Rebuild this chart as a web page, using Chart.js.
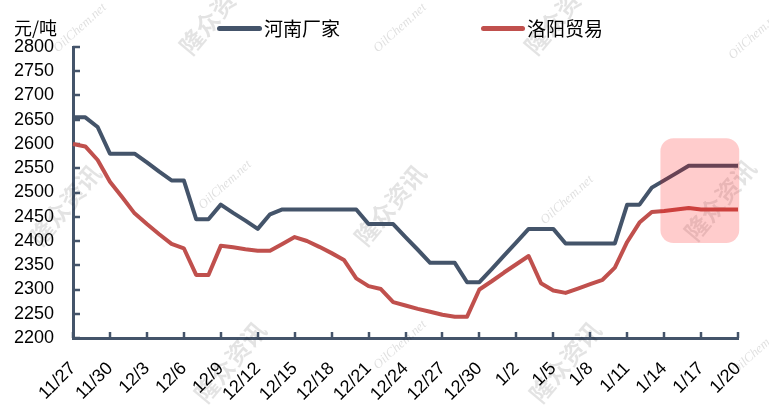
<!DOCTYPE html>
<html>
<head>
<meta charset="utf-8">
<script src="https://cdn.jsdelivr.net/npm/chart.js@4/dist/chart.umd.min.js"></script>
<style>
  html, body { margin: 0; padding: 0; background: #fff; }
  #wrap { position: relative; width: 769px; height: 411px; }
  canvas { position: absolute; left: 0; top: 0; }
  .lbl { position: absolute; font-family: "Noto Sans CJK SC", sans-serif; color: #000; white-space: nowrap; line-height: 1; }
  .sw { position: absolute; height: 5px; border-radius: 3px; }
</style>
</head>
<body>
<div id="wrap">
  <canvas id="c" width="769" height="411"></canvas>
  <div class="lbl" style="left:14px; top:18px; font-size:18px;">元/吨</div>
  <div class="sw" style="left:217px; top:26px; width:45px; background:#44546a;"></div>
  <div class="lbl" style="left:264px; top:18px; font-size:19px;">河南厂家</div>
  <div class="sw" style="left:481px; top:26px; width:44px; background:#c0504d;"></div>
  <div class="lbl" style="left:527px; top:18px; font-size:19px;">洛阳贸易</div>
</div>
<script>
const categories = ["11/27","11/28","11/29","11/30","12/1","12/2","12/3","12/4","12/5","12/6","12/7","12/8","12/9","12/10","12/11","12/12","12/13","12/14","12/15","12/16","12/17","12/18","12/19","12/20","12/21","12/22","12/23","12/24","12/25","12/26","12/27","12/28","12/29","12/30","12/31","1/1","1/2","1/3","1/4","1/5","1/6","1/7","1/8","1/9","1/10","1/11","1/12","1/13","1/14","1/15","1/16","1/17","1/18","1/19","1/20"];
const henanFactory = [2655,2655,2635,2580,2580,2580,2562,2543,2525,2525,2445,2445,2475,2458,2442,2425,2455,2465,2465,2465,2465,2465,2465,2465,2435,2435,2435,2408,2382,2355,2355,2355,2315,2315,2342,2370,2397,2425,2425,2425,2395,2395,2395,2395,2395,2475,2475,2510,2525,2540,2555,2555,2555,2555,2555];
const luoyangTrade = [2600,2595,2567,2522,2490,2457,2435,2414,2394,2385,2330,2330,2390,2387,2383,2380,2380,2394,2408,2400,2388,2375,2361,2323,2307,2301,2274,2267,2260,2254,2248,2244,2244,2300,2317,2335,2352,2369,2313,2298,2293,2302,2311,2320,2345,2398,2438,2460,2462,2465,2468,2465,2465,2465,2465];
const seriesNames = ["河南厂家","洛阳贸易"];
const yTicks = [2200,2250,2300,2350,2400,2450,2500,2550,2600,2650,2700,2750,2800];
const highlight = { xFrom: 47.7, xTo: 54.1, yFrom: 2396, yTo: 2612 };

const AXIS = '#44546a';

const extras = {
  id: 'extras',
  beforeDatasetsDraw(chart) {
    const ctx = chart.ctx;
    ctx.save();
    const wm1 = [[215,14],[560,14],[65,205],[390,205],[720,200],[230,362],[565,362]];
    ctx.fillStyle = 'rgba(0,0,0,0.11)';
    ctx.font = 'bold 24px "Noto Sans CJK SC"';
    ctx.textAlign = 'center'; ctx.textBaseline = 'middle';
    wm1.forEach(p => { ctx.save(); ctx.translate(p[0], p[1]); ctx.rotate(-50*Math.PI/180); ctx.fillText('隆众资讯', 0, 0); ctx.restore(); });
    const wm2 = [[80,28],[225,185],[400,28],[567,200],[755,35],[400,345],[758,350]];
    ctx.fillStyle = 'rgba(0,0,0,0.13)';
    ctx.font = 'italic 13px "Liberation Serif"';
    wm2.forEach(p => { ctx.save(); ctx.translate(p[0], p[1]); ctx.rotate(-42*Math.PI/180); ctx.fillText('OilChem.net', 0, 0); ctx.restore(); });
    const xs = chart.scales.x, ys = chart.scales.y;
    ctx.strokeStyle = AXIS; ctx.lineWidth = 2.5;
    const bottom = chart.chartArea.bottom, left = chart.chartArea.left;
    for (let i = 0; i < categories.length; i += 3) {
      const px = Math.round(xs.getPixelForValue(i));
      ctx.beginPath(); ctx.moveTo(px, bottom); ctx.lineTo(px, bottom - 6); ctx.stroke();
    }
    yTicks.forEach(v => {
      const py = Math.round(ys.getPixelForValue(v));
      ctx.beginPath(); ctx.moveTo(left, py); ctx.lineTo(left + 7, py); ctx.stroke();
    });
    ctx.restore();
  },
  afterDatasetsDraw(chart) {
    const ctx = chart.ctx;
    const xs = chart.scales.x, ys = chart.scales.y;
    const x1 = xs.getPixelForValue(highlight.xFrom), x2 = xs.getPixelForValue(highlight.xTo);
    const y1 = ys.getPixelForValue(highlight.yTo), y2 = ys.getPixelForValue(highlight.yFrom);
    ctx.save();
    ctx.fillStyle = 'rgba(255,0,0,0.2)';
    ctx.beginPath();
    ctx.roundRect(x1, y1, x2 - x1, y2 - y1, 13);
    ctx.fill();
    ctx.restore();
  }
};

new Chart(document.getElementById('c'), {
  type: 'line',
  data: {
    labels: categories,
    datasets: [
      { label: seriesNames[0], data: henanFactory, borderColor: '#44546a', backgroundColor: '#44546a', borderWidth: 4, pointRadius: 0, tension: 0, borderJoinStyle: 'round' },
      { label: seriesNames[1], data: luoyangTrade, borderColor: '#c0504d', backgroundColor: '#c0504d', borderWidth: 4, pointRadius: 0, tension: 0, borderJoinStyle: 'round' }
    ]
  },
  options: {
    responsive: false,
    animation: false,
    devicePixelRatio: 1,
    layout: { padding: { left: 0, right: 31, top: 47, bottom: 0 } },
    plugins: { legend: { display: false }, tooltip: { enabled: false } },
    scales: {
      x: {
        grid: { display: true, drawOnChartArea: false, drawTicks: false },
        border: { display: true, color: AXIS, width: 3 },
        ticks: {
          autoSkip: false, maxRotation: 45, minRotation: 45, padding: 20,
          color: '#000', font: { family: '"Liberation Sans", Arial', size: 18 },
          callback: (v, i) => (i % 3 === 0 ? categories[i] : '')
        },
        afterFit: s => { s.height = 73; s.paddingLeft = 0; s.paddingRight = 0; }
      },
      y: {
        min: 2200, max: 2800,
        grid: { display: true, drawOnChartArea: false, drawTicks: false },
        border: { display: true, color: AXIS, width: 3 },
        afterBuildTicks: s => { s.ticks = yTicks.map(v => ({ value: v })); },
        ticks: {
          autoSkip: false, padding: 19, color: '#000',
          font: { family: '"Liberation Sans", Arial', size: 18 },
          callback: v => String(v)
        },
        afterFit: s => { s.width = 73; s.paddingTop = 0; s.paddingBottom = 0; }
      }
    }
  },
  plugins: [extras]
});
</script>
</body>
</html>
